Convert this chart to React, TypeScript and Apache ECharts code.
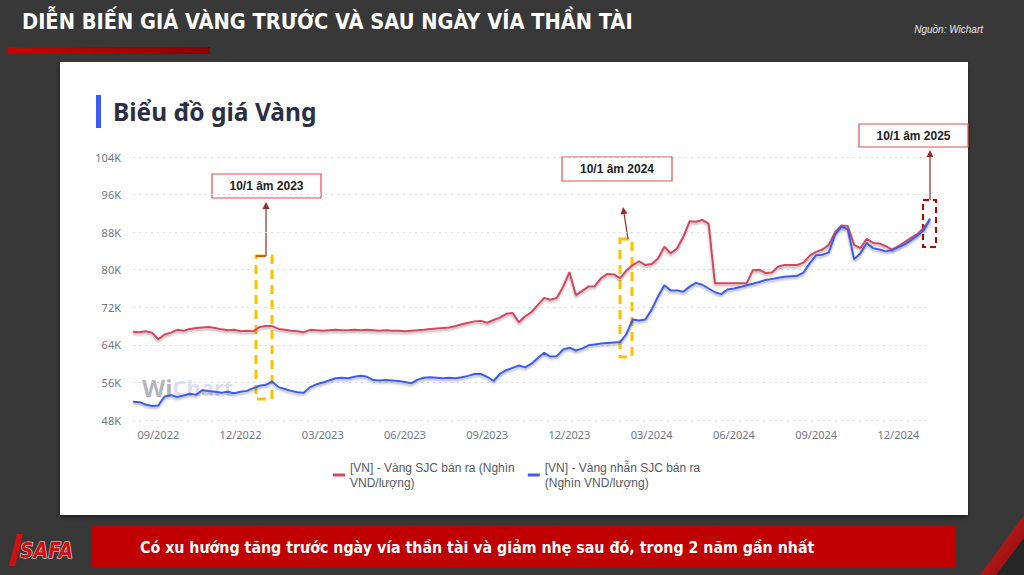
import React, { useEffect, useRef } from "react";
import * as echarts from "echarts";

// ---------- DATA ----------
const START_DATE = "2022-08-08"; // first weekly observation (Monday)
const WEEK_COUNT = 127;

const categories: string[] = (() => {
  const out: string[] = [];
  const [y, m, d] = START_DATE.split("-").map(Number);
  const t0 = Date.UTC(y, m - 1, d);
  for (let i = 0; i < WEEK_COUNT; i++) {
    const dt = new Date(t0 + i * 7 * 86400000);
    const mm = String(dt.getUTCMonth() + 1).padStart(2, "0");
    const dd = String(dt.getUTCDate()).padStart(2, "0");
    out.push(`${dt.getUTCFullYear()}-${mm}-${dd}`);
  }
  return out;
})();

const SERIES_NAMES = ["sjc", "ring"];
const LEGEND_LABELS: Record<string, string> = {
  sjc: "[VN] - Vàng SJC bán ra (Nghìn\nVND/lượng)",
  ring: "[VN] - Vàng nhẫn SJC bán ra\n(Nghìn VND/lượng)",
};

// Vàng SJC bán ra (nghìn VND/lượng, shown in K)
const sjcSell = [
  66.8, 66.7, 66.9, 66.6, 65.2, 66.2, 66.6, 67.2, 67.0, 67.4,
  67.6, 67.7, 67.8, 67.6, 67.3, 67.1, 67.2, 66.9, 67.0, 66.9,
  67.8, 68.0, 68.0, 67.4, 67.2, 67.0, 66.9, 66.7, 67.2, 67.1,
  67.0, 67.1, 67.2, 67.1, 67.1, 67.2, 67.1, 67.2, 67.1, 67.0,
  67.1, 67.0, 67.0, 66.9, 67.0, 67.1, 67.2, 67.4, 67.5, 67.6,
  67.7, 68.0, 68.4, 68.7, 69.0, 69.1, 68.7, 69.3, 69.8, 70.6,
  70.8, 68.8, 70.1, 71.0, 72.5, 74.0, 73.6, 74.0, 76.4, 79.5,
  74.6, 75.5, 76.4, 76.5, 78.2, 79.1, 79.0, 78.2, 79.8, 81.0,
  81.8, 81.0, 81.2, 82.4, 84.9, 83.5, 84.5, 87.0, 90.3, 90.2,
  90.6, 89.8, 77.1, 77.1, 77.1, 77.1, 77.1, 77.1, 79.9, 80.0,
  79.3, 79.4, 80.7, 81.0, 81.0, 81.0, 81.5, 83.0, 83.8, 84.3,
  85.3, 88.0, 89.4, 89.3, 85.3, 84.6, 86.6, 85.7, 85.6, 85.0,
  84.3, 85.0, 85.9, 86.8, 87.6, 88.9, 90.6,
];

// Vàng nhẫn SJC bán ra
const ringSell = [
  51.9, 51.8, 51.3, 51.0, 51.1, 53.0, 53.3, 52.9, 53.2, 53.6,
  53.4, 54.4, 54.1, 54.0, 53.8, 54.0, 53.7, 54.0, 54.2, 54.8,
  55.3, 55.5, 56.2, 55.0, 54.6, 54.2, 53.9, 53.8, 55.0, 55.6,
  56.0, 56.4, 56.9, 57.0, 56.9, 57.2, 57.4, 57.2, 56.5, 56.4,
  56.5, 56.4, 56.3, 56.1, 55.8, 56.6, 57.0, 57.1, 57.0, 56.9,
  57.0, 56.9, 57.1, 57.4, 57.8, 57.8, 57.2, 56.3, 57.8, 58.6,
  59.1, 59.6, 59.2, 60.0, 61.2, 62.3, 61.5, 61.6, 63.0, 63.4,
  62.8, 63.2, 63.9, 64.1, 64.3, 64.4, 64.5, 64.6, 66.3, 69.4,
  69.2, 69.4, 71.5, 74.3, 76.7, 75.6, 75.6, 75.3, 76.4, 77.2,
  76.8, 76.0, 75.2, 74.8, 75.8, 76.0, 76.3, 76.7, 77.0, 77.4,
  77.8, 78.0, 78.3, 78.5, 78.6, 78.7, 79.4, 81.4, 83.1, 83.2,
  83.7, 87.5, 89.2, 88.6, 82.2, 83.5, 85.7, 84.6, 84.3, 83.9,
  84.2, 84.8, 85.4, 86.3, 87.3, 88.4, 90.9,
];

const Y_MIN = 48;
const Y_MAX = 104;
const Y_STEP = 8;
const LABEL_MONTHS = [3, 6, 9, 12];

const PAGE_TITLE = "DIỄN BIẾN GIÁ VÀNG TRƯỚC VÀ SAU NGÀY VÍA THẦN TÀI";
const SOURCE = "Nguồn: Wichart";
const CARD_TITLE = "Biểu đồ giá Vàng";
const BANNER = "Có xu hướng tăng trước ngày vía thần tài và giảm nhẹ sau đó, trong 2 năm gần nhất";
const NOTES = ["10/1 âm 2023", "10/1 âm 2024", "10/1 âm 2025"];

// ---------- COMPONENT ----------
const RED = "#d6465d";
const BLUE = "#3d5cf5";
const ARROW = "#9b2c24";

function arrow(x1: number, y1: number, x2: number, y2: number) {
  const ang = Math.atan2(y2 - y1, x2 - x1);
  const L = 7;
  const W = 3.5;
  const bx = x2 - L * Math.cos(ang);
  const by = y2 - L * Math.sin(ang);
  const px = -Math.sin(ang) * W;
  const py = Math.cos(ang) * W;
  return [
    { type: "line", shape: { x1, y1, x2: bx, y2: by }, style: { stroke: ARROW, lineWidth: 1.2 } },
    {
      type: "polygon",
      shape: { points: [[x2, y2], [bx + px, by + py], [bx - px, by - py]] },
      style: { fill: ARROW },
    },
  ];
}

function noteBox(x: number, y: number, w: number, h: number, text: string) {
  return [
    {
      type: "rect",
      shape: { x, y, width: w, height: h },
      style: { fill: "#ffffff", stroke: "#d9534f", lineWidth: 1.2 },
    },
    {
      type: "text",
      x: x + w / 2,
      y: y + h / 2,
      style: {
        text,
        fill: "#222222",
        fontSize: 12,
        fontWeight: "bold",
        fontFamily: "Liberation Sans, Arial, sans-serif",
        align: "center",
        verticalAlign: "middle",
      },
    },
  ];
}

export default function App() {
  const ref = useRef<HTMLDivElement>(null);

  useEffect(() => {
    document.body.style.margin = "0";
    if (!ref.current) return;
    const chart = echarts.init(ref.current, undefined, { renderer: "svg" });

    const graphic: any[] = [
      // red underline bar
      {
        type: "rect",
        shape: { x: 8, y: 47, width: 202, height: 7 },
        style: {
          fill: new echarts.graphic.LinearGradient(0, 0, 1, 0, [
            { offset: 0, color: "#c80000" },
            { offset: 1, color: "#8e0000" },
          ]),
        },
      },
      {
        type: "text",
        x: 22,
        y: 21,
        style: {
          text: PAGE_TITLE,
          fill: "#ffffff",
          fontSize: 21.6,
          fontWeight: "bold",
          fontFamily: "DejaVu Sans Condensed, DejaVu Sans, sans-serif",
          verticalAlign: "middle",
        },
      },
      {
        type: "text",
        x: 983,
        y: 29,
        style: {
          text: SOURCE,
          fill: "#e8e8e8",
          fontSize: 10,
          fontStyle: "italic",
          fontFamily: "Liberation Sans, Arial, sans-serif",
          align: "right",
          verticalAlign: "middle",
        },
      },
      // white card
      {
        type: "rect",
        z: -10,
        shape: { x: 60, y: 62, width: 908, height: 453 },
        style: { fill: "#ffffff", shadowColor: "rgba(0,0,0,0.5)", shadowBlur: 4, shadowOffsetY: 2 },
      },
      { type: "rect", shape: { x: 96, y: 95, width: 5, height: 33 }, style: { fill: "#3d5afe" } },
      {
        type: "text",
        x: 113,
        y: 111,
        style: {
          text: CARD_TITLE,
          fill: "#2b2f45",
          fontSize: 24.5,
          fontWeight: "bold",
          fontFamily: "Noto Sans, sans-serif",
          verticalAlign: "middle",
        },
      },
      // watermark
      {
        type: "text",
        x: 142,
        y: 387,
        style: {
          text: "{w|Wi}{c|Chart}",
          verticalAlign: "middle",
          rich: {
            w: {
              fill: "rgba(110,115,135,0.55)",
              fontSize: 24,
              fontWeight: "bold",
              fontFamily: "Noto Sans, sans-serif",
            },
            c: {
              fill: "rgba(150,160,220,0.35)",
              fontSize: 22,
              fontWeight: "bold",
              fontFamily: "Noto Sans, sans-serif",
            },
          },
        },
      },
      // highlight boxes
      {
        type: "rect",
        shape: { x: 256, y: 256, width: 16, height: 143 },
        style: { fill: "none", stroke: "#ffc000", lineWidth: 3, lineDash: [9, 6] },
      },
      {
        type: "rect",
        shape: { x: 620, y: 239, width: 12, height: 118 },
        style: { fill: "none", stroke: "#ffc000", lineWidth: 3, lineDash: [9, 6] },
      },
      {
        type: "rect",
        shape: { x: 923, y: 200, width: 13, height: 47 },
        style: { fill: "none", stroke: "#c00000", lineWidth: 2, lineDash: [6, 4] },
      },
      // arrows
      { type: "line", shape: { x1: 256, y1: 256, x2: 266, y2: 256 }, style: { stroke: ARROW, lineWidth: 1.2 } },
      ...arrow(266, 256, 266, 202),
      ...arrow(628, 239, 623, 207),
      ...arrow(930, 200, 930, 150),
      // note boxes
      ...noteBox(212, 174, 109, 24, NOTES[0]),
      ...noteBox(562, 157, 110, 24, NOTES[1]),
      ...noteBox(859, 124, 109, 23, NOTES[2]),
      // bottom banner
      { type: "rect", shape: { x: 92, y: 525, width: 863, height: 42 }, style: { fill: "#c00000" } },
      {
        type: "text",
        x: 140,
        y: 547,
        style: {
          text: BANNER,
          fill: "#ffffff",
          fontSize: 15.8,
          fontWeight: "bold",
          fontFamily: "DejaVu Sans Condensed, DejaVu Sans, sans-serif",
          verticalAlign: "middle",
        },
      },
      // logo
      {
        type: "polygon",
        shape: { points: [[17, 534], [23, 534], [15, 566], [9, 566]] },
        style: { fill: "#d01010" },
      },
      {
        type: "text",
        x: 20,
        y: 551,
        style: {
          text: "SAFA",
          fill: "#d01010",
          fontSize: 21,
          fontWeight: "bold",
          fontStyle: "italic",
          fontFamily: "DejaVu Sans Condensed, sans-serif",
          verticalAlign: "middle",
          stroke: "#f0f0f0",
          lineWidth: 1,
        },
      },
      // bottom-right stripe
      {
        type: "polygon",
        shape: { points: [[1024, 515], [1024, 538], [996, 575], [980, 575]] },
        style: {
          fill: new echarts.graphic.LinearGradient(0, 0, 1, 1, [
            { offset: 0, color: "#d42020" },
            { offset: 1, color: "#8a0a0a" },
          ]),
        },
      },
      {
        type: "polygon",
        shape: { points: [[1024, 538], [1024, 575], [996, 575]] },
        style: { fill: "#262626" },
      },
    ];

    chart.setOption({
      animation: false,
      backgroundColor: "#383838",
      textStyle: { fontFamily: "Noto Sans, sans-serif" },
      grid: { left: 133, right: 94, top: 157, bottom: 155, containLabel: false },
      legend: {
        left: 328,
        top: 455,
        itemWidth: 12,
        itemHeight: 3,
        itemGap: 13,
        icon: "rect",
        data: SERIES_NAMES,
        formatter: (n: string) => LEGEND_LABELS[n],
        textStyle: {
          color: "#555a66",
          fontSize: 12,
          lineHeight: 15,
          fontFamily: "Liberation Sans, Arial, sans-serif",
        },
      },
      xAxis: {
        type: "category",
        data: categories,
        boundaryGap: false,
        axisLine: { show: false },
        axisTick: { show: false },
        axisLabel: {
          color: "#6e7687",
          fontSize: 11,
          margin: 9,
          interval: (idx: number, val: string) => {
            const [, m, d] = val.split("-").map(Number);
            return LABEL_MONTHS.includes(m) && d <= 7;
          },
          formatter: (val: string) => {
            const [y, m] = val.split("-");
            return `${m}/${y}`;
          },
        },
        splitLine: { show: false },
      },
      yAxis: {
        type: "value",
        min: Y_MIN,
        max: Y_MAX,
        interval: Y_STEP,
        axisLine: { show: false },
        axisTick: { show: false },
        axisLabel: {
          color: "#6e7687",
          fontSize: 11,
          margin: 12,
          formatter: (v: number) => `${v}K`,
        },
        splitLine: { lineStyle: { color: "#dcdcdc", type: [2, 4], width: 1 } },
      },
      series: [
        {
          name: "sjc",
          type: "line",
          data: sjcSell,
          showSymbol: false,
          color: RED,
          lineStyle: {
            color: RED,
            width: 2,
            shadowColor: "rgba(0,0,0,0.3)",
            shadowBlur: 2,
            shadowOffsetY: 2,
          },
        },
        {
          name: "ring",
          type: "line",
          data: ringSell,
          showSymbol: false,
          color: BLUE,
          lineStyle: {
            color: BLUE,
            width: 2,
            shadowColor: "rgba(0,0,0,0.3)",
            shadowBlur: 2,
            shadowOffsetY: 2,
          },
        },
      ],
      graphic,
    });

    return () => chart.dispose();
  }, []);

  return <div ref={ref} style={{ width: 1024, height: 575 }} />;
}
